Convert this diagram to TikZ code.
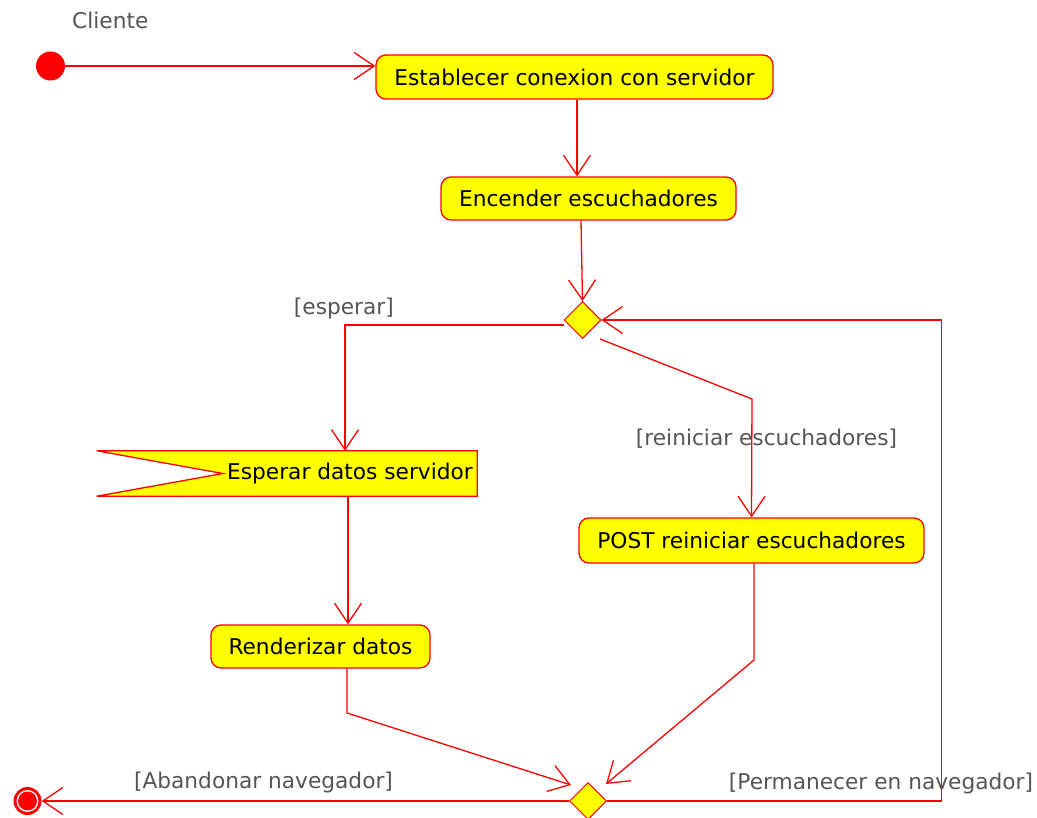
\documentclass[tikz,border=0pt]{standalone}
\usepackage{fontspec}
\setmainfont{DejaVu Sans}
\usetikzlibrary{arrows.meta,shapes.geometric,backgrounds}
\definecolor{actfill}{RGB}{255,255,0}
\definecolor{actline}{RGB}{255,0,0}
\definecolor{guardtext}{RGB}{85,85,85}
\tikzset{
  x=1pt, y=-1pt,
  txt/.style={font=\fontsize{21.7}{25}\selectfont},
  action/.style={txt, draw=actline, fill=actfill, line width=1.3pt,
    rounded corners=10pt, inner sep=0pt, text=black},
  choice/.style={diamond, aspect=1, draw=actline, fill=actfill,
    line width=1pt, minimum size=37pt, inner sep=0pt},
  guard/.style={txt, text=guardtext, inner sep=0pt},
  flow/.style={draw=actline, line width=1.3pt,
    -{Straight Barb[length=20pt,width=27pt,line width=1.3pt]}},
}
\begin{document}
\begin{tikzpicture}
\useasboundingbox (0,0) rectangle (1037,818);

% start and end
\node[circle, fill=actline, minimum size=29pt, inner sep=0pt] (init) at (50.5,66) {};
\node[guard, anchor=west] (client) at (72,20) {Cliente};
\node[circle, fill=actline, minimum size=28pt, inner sep=0pt] (fin) at (27.5,801) {};
\fill[white] (fin) circle (11);
\fill[actline] (fin) circle (9.5);

% actions
\node[action, minimum width=397pt, minimum height=44pt] (b1) at (574.5,77) {Establecer conexion con servidor};
\node[action, minimum width=295pt, minimum height=43pt] (b2) at (588.5,198.5) {Encender escuchadores};
\node[txt, minimum width=254pt, minimum height=45pt, inner sep=0pt] (b3) at (350,473.5) {Esperar datos servidor};
\begin{scope}[on background layer]
  \draw[draw=actline, fill=actfill, line width=1.3pt]
    (b3.north east) -- ([xshift=-126pt]b3.north west) -- (b3.west)
    -- ([xshift=-126pt]b3.south west) -- (b3.south east) -- cycle;
\end{scope}
\node[action, minimum width=219pt, minimum height=43pt] (b4) at (320.5,646.5) {Renderizar datos};
\node[action, minimum width=345pt, minimum height=45pt] (b5) at (751.5,540.5) {POST reiniciar escuchadores};

% decisions
\node[choice] (d1) at (582.5,320) {};
\node[choice] (d2) at (588,801) {};

% bend points
\coordinate (k1) at (752,399);
\coordinate (k2) at (347,713);
\coordinate (k3) at (754,660);

% flows
\draw[flow] (init.east) -- (init -| b1.west);
\draw[flow] ([xshift=2.5pt]b1.south) -- ([xshift=-11.5pt]b2.north);
\draw[flow] ([xshift=-7.5pt]b2.south) -- (d1.north);
\draw[flow] ([yshift=-5pt]d1.west) -| ([xshift=-5pt]b3.north);
\draw[flow] ([xshift=17.5pt]d1.south) -- (k1) -- (b5.north);
\draw[flow] ([xshift=-2pt]b3.south) -- ([xshift=27.5pt]b4.north);
\draw[flow] ([xshift=26.5pt]b4.south) -- (k2) -- ([shift={(-17,-16)}]d2.center);
\draw[flow] ([xshift=2.5pt]b5.south) -- (k3) -- ([shift={(18,-17)}]d2.center);
\draw[flow] (d2.west) -- (fin.east);
\draw[flow] (d2.east) -| ([xshift=340pt]d1.east) -- (d1.east);

% guards
\node[guard, anchor=east] (g1) at (394,309) {[esperar]};
\node[guard] (g2) at (766.5,439) {[reiniciar escuchadores]};
\node[guard] (g3) at (263.5,783) {[Abandonar navegador]};
\node[guard] (g4) at (881,784) {[Permanecer en navegador]};
\end{tikzpicture}
\end{document}
